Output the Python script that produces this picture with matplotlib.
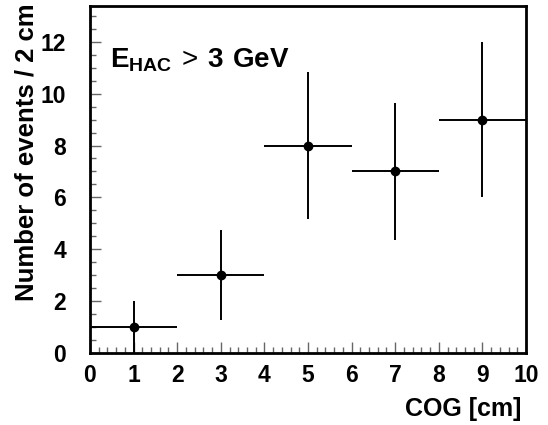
import matplotlib.pyplot as plt
from matplotlib.ticker import MultipleLocator

plt.rcParams["font.family"] = ["Liberation Sans", "DejaVu Sans"]
plt.rcParams["mathtext.fontset"] = "custom"
plt.rcParams["mathtext.rm"] = "Liberation Sans"
plt.rcParams["mathtext.bf"] = "Liberation Sans:bold"

cog = [1, 3, 5, 7, 9]
counts = [1, 3, 8, 7, 9]
count_err = [1.0, 1.73, 2.83, 2.65, 3.0]
bin_half = [1, 1, 1, 1, 1]

fig = plt.figure(figsize=(5.48, 4.25), dpi=100)
ax = fig.add_axes([0.1642, 0.1694, 0.7957, 0.8165])

ax.errorbar(cog, counts, xerr=bin_half, yerr=count_err, fmt="o", color="black",
            markersize=6, elinewidth=1.4, capsize=0)

ax.set_xlim(0, 10)
ax.set_ylim(0, 13.38)
ax.xaxis.set_major_locator(MultipleLocator(1))
ax.xaxis.set_minor_locator(MultipleLocator(0.2))
ax.yaxis.set_major_locator(MultipleLocator(2))
ax.yaxis.set_minor_locator(MultipleLocator(0.5))
ax.tick_params(which="both", direction="in", top=False, right=False,
               color="#666666", width=1.0, labelsize=16.5)
ax.tick_params(which="major", length=8)
ax.tick_params(which="minor", length=4)
ax.tick_params(axis="x", which="major", pad=8)
ax.tick_params(axis="y", which="major", pad=17)
for label in ax.get_xticklabels() + ax.get_yticklabels():
    label.set_fontweight("bold")
for spine in ax.spines.values():
    spine.set_linewidth(2.0)

ax.set_xlabel("COG [cm]", fontsize=18, fontweight="bold", loc="right")
ax.set_ylabel("Number of events / 2 cm", fontsize=18.5, fontweight="bold", loc="top")
ax.xaxis.set_label_coords(0.9885, -0.128)
ax.yaxis.set_label_coords(-0.119, 1.008)

ax.text(0.046, 0.845, r"$\mathbf{E}_{\mathbf{HAC}}\,\mathrm{>}\,\mathbf{3\ GeV}$",
        transform=ax.transAxes, fontsize=20, va="center", ha="left")

fig.savefig("out.png", dpi=100)
